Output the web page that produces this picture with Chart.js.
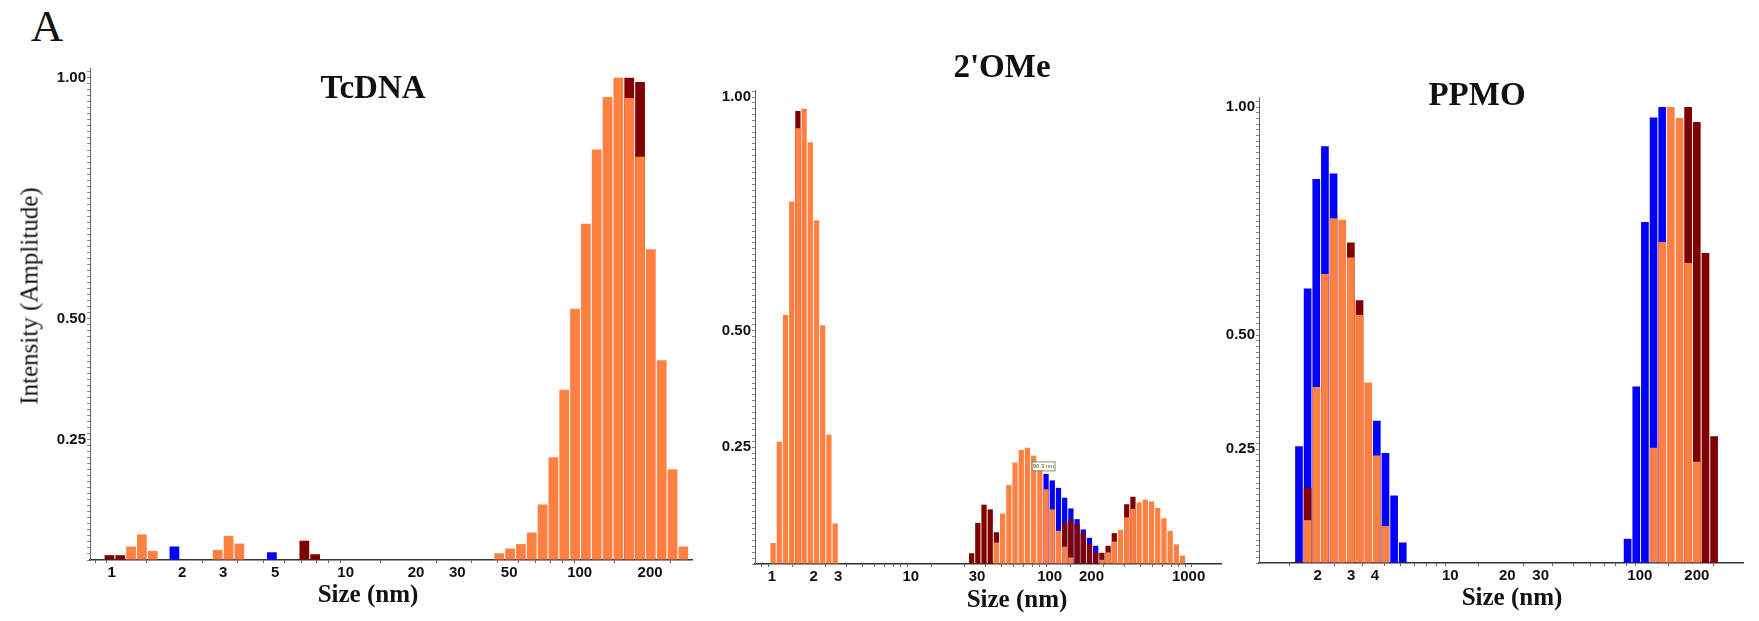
<!DOCTYPE html>
<html>
<head>
<meta charset="utf-8">
<script src="https://cdn.jsdelivr.net/npm/chart.js@4.4.1/dist/chart.umd.min.js"></script>
<style>
  body { margin: 0; width: 1759px; height: 621px; background: #fff; position: relative; overflow: hidden; }
  canvas { position: absolute; }
  .t { position: absolute; font-family: "Liberation Serif", "Times New Roman", serif; color: #111;
       white-space: nowrap; line-height: 1; transform: translate(-50%, -50%); }
  .b { font-weight: bold; }
</style>
</head>
<body>
<canvas id="c1" width="670" height="540" style="left:40px;top:60px"></canvas>
<canvas id="c2" width="540" height="540" style="left:700px;top:60px"></canvas>
<canvas id="c3" width="554" height="540" style="left:1205px;top:60px"></canvas>

<div class="t" style="left:47px;top:26px;font-size:45px;">A</div>
<div class="t" style="left:29px;top:296px;font-size:25px;transform:translate(-50%,-50%) rotate(-90deg);">Intensity (Amplitude)</div>
<div class="t b" style="left:373px;top:87px;font-size:33px;">TcDNA</div>
<div class="t b" style="left:1002px;top:66px;font-size:33px;">2'OMe</div>
<div class="t b" style="left:1477px;top:94px;font-size:33px;">PPMO</div>
<div class="t b" style="left:368px;top:593px;font-size:25px;">Size (nm)</div>
<div class="t b" style="left:1017px;top:598px;font-size:25px;">Size (nm)</div>
<div class="t b" style="left:1512px;top:596px;font-size:25px;">Size (nm)</div>

<script>
// --- data: bin size (nm) and amplitude per run (orange / dark red / blue) ---

// TcDNA
const sizes1 = [0.979, 1.089, 1.211, 1.347, 1.499, 1.855, 2.840, 3.160, 3.515, 4.839, 6.662, 7.410,
  45.34, 50.44, 56.11, 62.42, 69.44, 77.24, 85.93, 95.59, 106.3, 118.3, 131.6, 146.4, 162.9, 181.2, 201.5, 224.2, 249.4, 277.4];
const orange1 = [null, null, 0.028, 0.053, 0.019, null, 0.021, 0.050, 0.034, null, null, null,
  0.014, 0.024, 0.033, 0.057, 0.115, 0.213, 0.353, 0.521, 0.697, 0.851, 0.960, 1.000, 0.958, 0.836, 0.644, 0.414, 0.188, 0.028];
const maroon1 = [0.010, 0.010, null, null, null, null, null, null, null, null, 0.040, 0.012,
  null, null, null, null, null, null, null, null, null, null, null, null, 1.000, 0.991, null, null, null, null];
const blue1 = [null, null, null, null, null, 0.028, null, null, null, 0.016, null, null,
  null, null, null, null, null, null, null, null, null, null, null, null, null, null, null, null, null, null];

// 2'OMe
const sizes2 = [1.020, 1.131, 1.253, 1.389, 1.539, 1.706, 1.891, 2.096, 2.322, 2.574, 2.853,
  27.41, 30.38, 33.67, 37.32, 41.36, 45.84, 50.81, 56.31, 62.41, 69.17, 76.66, 84.97, 94.17, 104.4, 115.7, 128.2,
  142.1, 157.5, 174.5, 193.5, 214.4, 237.6, 263.4, 291.9, 323.5, 358.5, 397.4, 440.4, 488.1, 541.0, 599.6, 664.5,
  736.5, 816.4, 904.8];
const orange2 = [0.045, 0.262, 0.533, 0.776, 0.933, 0.975, 0.903, 0.736, 0.511, 0.277, 0.087,
  null, null, null, null, 0.046, 0.108, 0.169, 0.217, 0.244, 0.249, 0.232, 0.210, 0.160, 0.117, 0.071, 0.037,
  0.014, null, null, null, null, 0.009, 0.025, 0.048, 0.073, 0.100, 0.118, 0.132, 0.138, 0.134, 0.120, 0.098,
  0.071, 0.042, 0.018];
const maroon2 = [null, null, null, null, 0.970, null, null, null, null, null, null,
  0.023, 0.088, 0.127, 0.117, 0.068, null, null, null, null, null, null, null, null, null, null, 0.088,
  0.096, 0.086, 0.066, 0.043, 0.026, 0.024, 0.039, 0.066, null, 0.128, 0.144, null, null, null, null, null,
  null, null, null];
const blue2 = [null, null, null, null, null, null, null, null, null, null, null,
  null, null, null, null, null, null, null, null, null, null, null, null, 0.193, 0.179, 0.163, 0.142,
  0.119, 0.096, 0.074, 0.056, 0.039, null, null, null, null, null, null, null, null, null, null, null,
  null, null, null];
const note2 = { size: 90.3, value: 0.209, text: '90.3 nm' };

// PPMO
const sizes3 = [1.592, 1.768, 1.964, 2.182, 2.423, 2.692, 2.990, 3.321, 3.689, 4.098, 4.551, 5.056, 5.616,
  86.23, 95.79, 106.4, 118.2, 131.3, 145.8, 162.0, 179.9, 199.8, 222.0, 246.6];
const orange3 = [null, 0.094, 0.386, 0.634, 0.756, 0.753, 0.670, 0.544, 0.396, 0.236, 0.081, null, null,
  null, null, null, 0.253, 0.704, 1.000, 0.976, 0.658, 0.222, null, null];
const maroon3 = [0.003, 0.165, null, null, null, null, 0.703, 0.576, null, null, null, null, null,
  null, null, null, null, null, null, null, 1.000, 0.967, 0.680, 0.278];
const blue3 = [0.256, 0.602, 0.842, 0.914, 0.854, null, null, null, null, 0.312, 0.241, 0.148, 0.045,
  0.053, 0.387, 0.748, 0.977, 1.000, null, null, null, null, null, null];

// tick labels
const yLabels = [0.25, 0.50, 1.00];
const xLabels1 = [1, 2, 3, 5, 10, 20, 30, 50, 100, 200];
const xLabels2 = [1, 2, 3, 10, 30, 100, 200, 1000];
const xLabels3 = [2, 3, 4, 10, 20, 30, 100, 200];

const COL = { orange: '#ff8040', maroon: '#800000', blue: '#0000ff' };
const tickFont = { family: '"Liberation Sans", Arial, sans-serif', weight: 'bold', size: 15 };

function hasLabel(list, v) {
  return list.some(l => Math.abs(l - v) < 1e-6);
}

// minor ticks for log axis: 1..9 x 10^n
function logTicks(min, max) {
  const out = [];
  for (let e = -1; e <= 3; e++) {
    for (let d = 1; d <= 9; d++) {
      const v = d * Math.pow(10, e);
      if (v >= min && v <= max) out.push({ value: v });
    }
  }
  return out;
}

function linTicks(max) {
  const out = [];
  for (let i = 0; i * 0.0125 <= max + 1e-9; i++) out.push({ value: +(i * 0.0125).toFixed(4) });
  return out;
}

const notePlugin = {
  id: 'note',
  afterDatasetsDraw(chart) {
    const n = chart.options.plugins.note;
    if (!n || !n.text) return;
    const ctx = chart.ctx;
    const x = chart.scales.x.getPixelForValue(n.size);
    const y = chart.scales.y.getPixelForValue(n.value);
    ctx.save();
    ctx.fillStyle = '#ffffe6';
    ctx.strokeStyle = '#8a8a8a';
    ctx.lineWidth = 1;
    ctx.fillRect(x - 11, y - 4, 22, 8);
    ctx.strokeRect(x - 11.5, y - 4.5, 23, 9);
    ctx.fillStyle = '#555';
    ctx.font = '6px "Liberation Sans", Arial, sans-serif';
    ctx.textAlign = 'center';
    ctx.textBaseline = 'middle';
    ctx.fillText(n.text, x, y);
    ctx.restore();
  }
};

function makePanel(id, p) {
  const ds = (data, color) => ({
    data: data, backgroundColor: color, borderWidth: 0,
    grouped: false, barPercentage: p.barPct, categoryPercentage: 1
  });
  return new Chart(document.getElementById(id), {
    type: 'bar',
    data: {
      labels: p.sizes,
      // first dataset is drawn on top
      datasets: [ds(p.orange, COL.orange), ds(p.maroon, COL.maroon), ds(p.blue, COL.blue)]
    },
    options: {
      responsive: false,
      animation: false,
      devicePixelRatio: 1,
      layout: { padding: p.pad },
      plugins: { legend: { display: false }, tooltip: { enabled: false }, note: p.note || {} },
      scales: {
        x: {
          type: 'logarithmic', min: p.xMin, max: p.xMax,
          afterBuildTicks: s => { s.ticks = logTicks(p.xMin, p.xMax); },
          afterFit: s => { s.height = p.xH; s.paddingLeft = 0; s.paddingRight = 0; },
          border: { display: true, color: '#333', width: 1.5 },
          grid: { drawOnChartArea: false, drawTicks: true, tickLength: 3, color: '#666' },
          ticks: {
            autoSkip: false, maxRotation: 0, minRotation: 0, padding: 1,
            color: '#111', font: tickFont,
            callback: v => hasLabel(p.xLabels, v) ? String(v) : ''
          }
        },
        y: {
          min: 0, max: p.yMax,
          afterBuildTicks: s => { s.ticks = linTicks(p.yMax); },
          afterFit: s => { s.width = p.yW; s.paddingTop = 0; s.paddingBottom = 0; },
          border: { display: true, color: '#666', width: 1 },
          grid: { drawOnChartArea: false, drawTicks: true, tickLength: 3, color: '#888' },
          ticks: {
            autoSkip: false, padding: 1, color: '#111', font: tickFont,
            callback: v => hasLabel(yLabels, v) ? v.toFixed(2) : ''
          }
        }
      }
    },
    plugins: [notePlugin]
  });
}

makePanel('c1', {
  sizes: sizes1, orange: orange1, maroon: maroon1, blue: blue1, xLabels: xLabels1,
  xMin: 0.8084, xMax: 302.1, yMax: 1.02, yW: 50, xH: 40, barPct: 0.91,
  pad: { top: 8, right: 18, left: 0, bottom: 0 }
});
makePanel('c2', {
  sizes: sizes2, orange: orange2, maroon: maroon2, blue: blue2, xLabels: xLabels2,
  xMin: 0.7557, xMax: 1711.6, yMax: 1.015, yW: 55, xH: 36, barPct: 0.85,
  pad: { top: 30, right: 19, left: 0, bottom: 0 }, note: note2
});
makePanel('c3', {
  sizes: sizes3, orange: orange3, maroon: maroon3, blue: blue3, xLabels: xLabels3,
  xMin: 0.9796, xMax: 350.3, yMax: 1.022, yW: 54, xH: 37, barPct: 0.89,
  pad: { top: 37, right: 16, left: 0, bottom: 0 }
});
</script>
</body>
</html>
